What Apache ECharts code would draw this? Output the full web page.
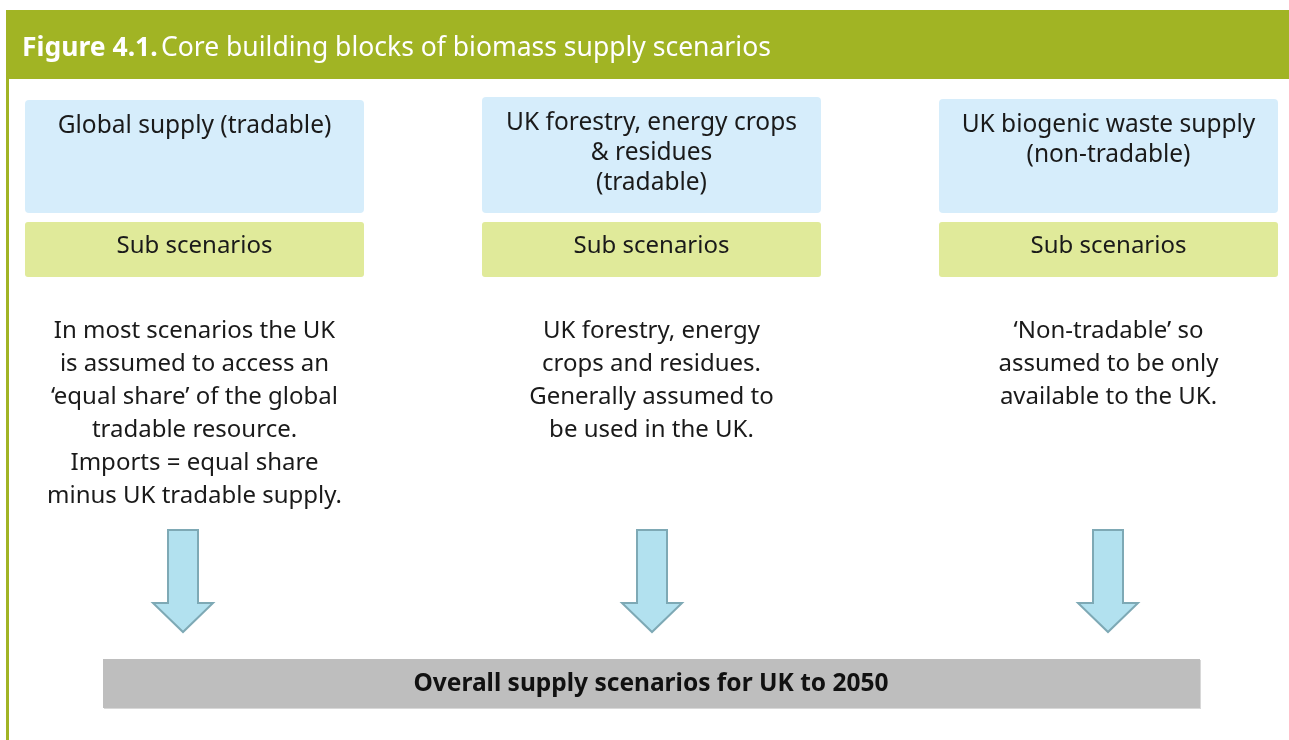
<!DOCTYPE html>
<html>
<head>
<meta charset="utf-8">
<script src="https://cdn.jsdelivr.net/npm/echarts@6/dist/echarts.min.js"></script>
<style>
  html, body { margin: 0; padding: 0; background: #fff; }
  #main { width: 1289px; height: 740px; }
</style>
</head>
<body>
<div id="main"></div>
<script>
// figure text
const figureNo = 'Figure 4.1.';
const figureTitle = 'Core building blocks of biomass supply scenarios';
const columnTitles = [
  'Global supply (tradable)',
  'UK forestry, energy crops\n& residues\n(tradable)',
  'UK biogenic waste supply\n(non-tradable)'
];
const subLabels = ['Sub scenarios', 'Sub scenarios', 'Sub scenarios'];
const descriptions = [
  'In most scenarios the UK\nis assumed to access an\n\u2018equal share\u2019 of the global\ntradable resource.\nImports = equal share\nminus UK tradable supply.',
  'UK forestry, energy\ncrops and residues.\nGenerally assumed to\nbe used in the UK.',
  '\u2018Non-tradable\u2019 so\nassumed to be only\navailable to the UK.'
];
const footerLabel = 'Overall supply scenarios for UK to 2050';

const FONT = '"Noto Sans", sans-serif';
const GREEN = '#a1b424';
const colLeft = [25, 482, 939];
const colTop = [100, 97, 99];
const colW = 339;

const chart = echarts.init(document.getElementById('main'), null, { renderer: 'canvas' });

const elements = [];
// header band + left rule
elements.push({ type: 'rect', shape: { x: 6, y: 10, width: 1283, height: 69 }, style: { fill: GREEN } });
elements.push({ type: 'rect', shape: { x: 6, y: 79, width: 3, height: 661 }, style: { fill: GREEN } });
elements.push({
  type: 'text', x: 22, y: 48,
  style: {
    text: '{b|' + figureNo + '} {r|' + figureTitle + '}',
    verticalAlign: 'middle',
    rich: {
      b: { fontFamily: FONT, fontSize: 26.5, fontWeight: 'bold', fill: '#fff' },
      r: { fontFamily: FONT, fontSize: 26.5, fill: '#fff' }
    }
  }
});

columnTitles.forEach(function (t, i) {
  const x = colLeft[i], cx = x + colW / 2;
  elements.push({ type: 'rect', shape: { x: x, y: colTop[i], width: colW, height: 213 - colTop[i], r: 4 }, style: { fill: '#d6edfb' } });
  elements.push({ type: 'rect', shape: { x: x, y: 222, width: colW, height: 55, r: 3 }, style: { fill: '#e0ea9a' } });
  elements.push({
    type: 'text', x: cx, y: colTop[i] + 11,
    style: { text: t, align: 'center', verticalAlign: 'top', fontFamily: FONT, fontSize: 24.5, lineHeight: 30, fill: '#1a1a1a' }
  });
  elements.push({
    type: 'text', x: cx, y: 246,
    style: { text: subLabels[i], align: 'center', verticalAlign: 'middle', fontFamily: FONT, fontSize: 24, fill: '#1a1a1a' }
  });
  elements.push({
    type: 'text', x: cx, y: 315,
    style: { text: descriptions[i], align: 'center', verticalAlign: 'top', fontFamily: FONT, fontSize: 24, lineHeight: 33, fill: '#1a1a1a' }
  });
  // down arrow
  const tipX = [183, 652, 1108][i];
  elements.push({
    type: 'polygon',
    shape: { points: [
      [tipX - 15, 530], [tipX + 15, 530], [tipX + 15, 603], [tipX + 30, 603],
      [tipX, 632], [tipX - 30, 603], [tipX - 15, 603]
    ] },
    style: { fill: '#b2e1ef', stroke: '#7ea9b5', lineWidth: 2 }
  });
});

// footer bar
elements.push({ type: 'rect', shape: { x: 104, y: 660, width: 1097, height: 49 }, style: { fill: '#d8d8d8' } });
elements.push({ type: 'rect', shape: { x: 103, y: 659, width: 1097, height: 49 }, style: { fill: '#bebebe' } });
elements.push({
  type: 'text', x: 651, y: 684,
  style: { text: footerLabel, align: 'center', verticalAlign: 'middle', fontFamily: FONT, fontSize: 24.5, fontWeight: 'bold', fill: '#111' }
});

chart.setOption({ animation: false, graphic: { elements: elements } });
</script>
</body>
</html>
